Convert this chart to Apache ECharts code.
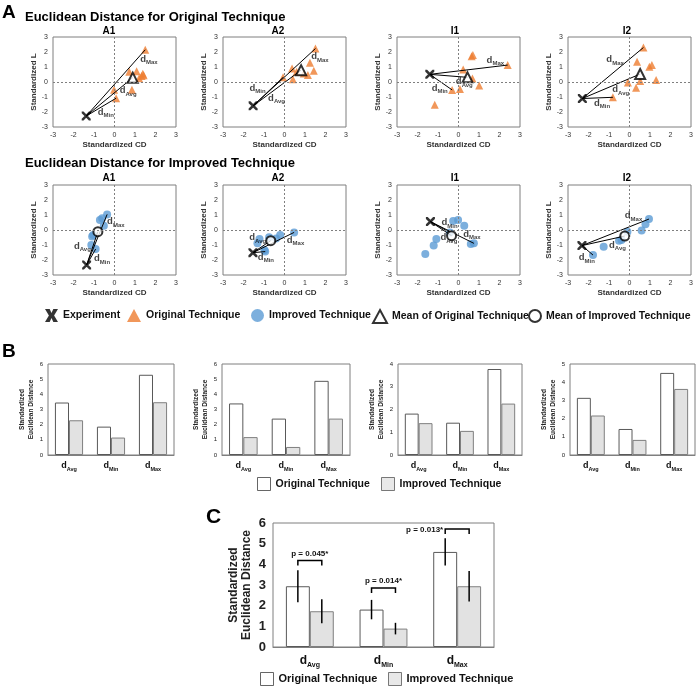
<!DOCTYPE html>
<html><head><meta charset="utf-8">
<script src="https://cdn.jsdelivr.net/npm/echarts@6/dist/echarts.min.js"></script>
<style>html,body{margin:0;padding:0;background:#fff}#c{width:698px;height:686px}</style>
</head><body><div id="c"></div>
<script>
// ---------------- DATA ----------------
const panelNames = ['A1', 'A2', 'I1', 'I2'];

// Original technique (top row of panel A)
const expOrig = [[-1.38, -2.27], [-1.53, -1.59], [-1.40, 0.51], [-2.30, -1.10]];
const origA1 = [[1.50, 2.15], [0.72, 0.68], [1.08, 0.72], [1.38, 0.55], [1.32, 0.40], [1.42, 0.45], [1.20, 0.25], [-0.02, -0.52], [0.85, -0.52], [0.08, -1.08]];
const origA2 = [[1.51, 2.23], [1.24, 1.28], [1.43, 0.75], [0.37, 0.90], [0.59, 0.68], [0.94, 0.57], [1.14, 0.46], [0.41, 0.18], [-0.07, 0.31]];
const origI1 = [[0.64, 1.72], [0.70, 1.80], [2.40, 1.13], [0.23, 0.84], [0.68, 0.24], [1.01, -0.24], [0.07, -0.46], [-0.31, -0.53], [-1.16, -1.52]];
const origI2 = [[0.68, 2.30], [0.37, 1.35], [0.97, 1.02], [1.09, 1.13], [1.30, 0.13], [0.52, 0.07], [-0.08, -0.04], [0.32, -0.38], [-0.81, -1.02]];
const meanOrig = [[0.89, 0.29], [0.81, 0.79], [0.44, 0.31], [0.52, 0.53]];
const maxOrig = [[1.50, 2.15], [1.51, 2.23], [2.40, 1.13], [0.68, 2.30]];
const minOrig = [[0.08, -1.08], [-0.07, 0.31], [-0.31, -0.53], [-0.81, -1.02]];

// Improved technique (bottom row of panel A)
const expImp = [[-1.36, -2.33], [-1.54, -1.51], [-1.37, 0.56], [-2.32, -1.04]];
const impA1 = [[-0.36, 1.04], [-0.71, 0.67], [-0.60, 0.78], [-0.52, 0.29], [-1.04, -0.33], [-1.09, -0.44], [-1.13, -1.00], [-0.92, -1.27]];
const impA2 = [[0.47, -0.16], [-0.21, -0.33], [-0.41, -0.56], [-0.75, -0.49], [-1.22, -0.60], [-1.32, -0.89], [-0.98, -1.33], [-0.94, -1.44]];
const impI1 = [[-0.26, 0.60], [-0.02, 0.67], [0.28, 0.29], [-0.42, -0.16], [-1.08, -0.60], [-1.21, -1.04], [-1.62, -1.60], [0.60, -0.93], [0.75, -0.89]];
const impI2 = [[0.95, 0.73], [0.78, 0.38], [0.59, -0.04], [-0.10, -0.11], [-0.39, -0.67], [-0.51, -0.71], [-1.26, -1.11], [-1.78, -1.67]];
const meanImp = [[-0.81, -0.11], [-0.67, -0.71], [-0.34, -0.38], [-0.23, -0.40]];
const maxImp = [[-0.36, 1.04], [0.47, -0.16], [0.75, -0.89], [0.95, 0.73]];
const minImp = [[-0.92, -1.27], [-0.94, -1.44], [-0.42, -0.16], [-1.78, -1.67]];

// Distance categories and bar values (panel B)
const distCats = ['Avg', 'Min', 'Max'];
const bOrigA1 = [3.46, 1.87, 5.29], bImpA1 = [2.29, 1.15, 3.48];
const bOrigA2 = [3.40, 2.40, 4.89], bImpA2 = [1.18, 0.53, 2.40];
const bOrigI1 = [1.82, 1.42, 3.78], bImpI1 = [1.40, 1.06, 2.26];
const bOrigI2 = [3.14, 1.43, 4.51], bImpI2 = [2.17, 0.83, 3.63];
const bYMax = [6, 6, 4, 5];

// Panel C: means, SDs, significance
const cOrig = [2.94, 1.81, 4.60], cImp = [1.73, 0.89, 2.94];
const cOrigSD = [0.77, 0.47, 0.66], cImpSD = [0.58, 0.28, 0.74];
const pLabels = ['p = 0.045*', 'p = 0.014*', 'p = 0.013*'];
const pHeights = [4.18, 2.85, 5.71];

// ---------------- LAYOUT / STYLE ----------------
const FF = '"Liberation Sans", Arial, sans-serif';
const sLeft = [53, 223, 397, 568], sTop = [37, 185], sW = 123, sH = 90;
const titleX = [109, 278, 455, 627];
// label anchors (where each d-label sits, in axis units)
const lblOrig = [
  [[1.25, 1.52], [0.25, -0.57], [-0.82, -2.0]],
  [[1.30, 1.68], [-0.80, -1.08], [-1.71, -0.42]],
  [[1.37, 1.46], [-0.13, 0.02], [-1.31, -0.42]],
  [[-1.13, 1.50], [-0.84, -0.49], [-1.73, -1.41]]
];
const lblImp = [
  [[-0.36, 0.56], [-1.98, -1.07], [-1.0, -1.89]],
  [[0.11, -0.67], [-1.72, -0.49], [-1.3, -1.82]],
  [[0.23, -0.27], [-0.88, -0.51], [-0.83, 0.49]],
  [[-0.23, 0.96], [-1.0, -1.0], [-2.48, -1.84]]
];
const bLeft = [48, 222, 398, 570], bW = [126, 128, 124, 125];
const X_PATH = 'path://M0,0L2,0L10,8L10,10L8,10L0,2Z M8,0L10,0L10,2L2,10L0,10L0,8Z';
const X_LEGEND = 'path://M0,0L3.6,0L5,3L6.4,0L10,0L7,5L10,10L6.4,10L5,7L3.6,10L0,10L3,5Z';
const ORANGE = '#ED7D31', BLUE = '#5B9BD5';

const grid = [], xAxis = [], yAxis = [], series = [];

function subRich(dSize, sSize, lh) {
  return {
    d: { fontSize: dSize, fontWeight: 'bold', color: '#111', lineHeight: lh, verticalAlign: 'middle', fontFamily: FF },
    s: { fontSize: sSize, fontWeight: 'bold', color: '#111', lineHeight: lh, verticalAlign: 'bottom', fontFamily: FF }
  };
}

function addScatter(gi, left, top, pts, mean, exp, tMax, tMin, isOrig, anchors) {
  grid.push({ left, top, width: sW, height: sH, show: true, borderColor: '#7f7f7f', borderWidth: 1 });
  const common = {
    gridIndex: gi, type: 'value', min: -3, max: 3, interval: 1,
    axisLine: { show: false }, axisTick: { show: false }, splitLine: { show: false },
    axisLabel: { fontSize: 7, color: '#333', margin: 5, fontFamily: FF },
    nameLocation: 'middle',
    nameTextStyle: { fontSize: 8, fontWeight: 'bold', color: '#333', fontFamily: FF }
  };
  xAxis.push(Object.assign({}, common, { name: 'Standardized CD', nameGap: 14 }));
  yAxis.push(Object.assign({}, common, { name: 'Standardized L', nameGap: 13 }));
  const ax = { xAxisIndex: gi, yAxisIndex: gi };
  series.push(Object.assign({
    type: 'scatter', name: isOrig ? 'Original Technique' : 'Improved Technique', data: pts,
    symbol: isOrig ? 'triangle' : 'circle', symbolSize: 8, z: 2,
    itemStyle: { color: isOrig ? ORANGE : BLUE },
    markLine: {
      silent: true, symbol: ['none', 'none'], animation: false, label: { show: false },
      lineStyle: { type: [2, 2], color: '#7f7f7f', width: 1 },
      data: [{ xAxis: 0 }, { yAxis: 0 }]
    }
  }, ax));
  [tMax, mean, tMin].forEach(t => series.push(Object.assign({
    type: 'line', data: [exp, t], symbol: 'none', silent: true, z: 3,
    lineStyle: { color: '#000', width: 1 }
  }, ax)));
  series.push(Object.assign({
    type: 'scatter', name: isOrig ? 'Mean of Original Technique' : 'Mean of Improved Technique',
    data: [mean], symbol: isOrig ? 'triangle' : 'circle', symbolSize: isOrig ? 10 : 9, z: 4,
    itemStyle: { color: '#fff', borderColor: '#000', borderWidth: 2 }
  }, ax));
  series.push(Object.assign({
    type: 'scatter', name: 'Experiment', data: [exp], symbol: X_PATH, symbolSize: 9, z: 5,
    itemStyle: { color: '#000' }
  }, ax));
  series.push(Object.assign({
    type: 'scatter', data: ['Max', 'Avg', 'Min'].map((n, k) => ({ name: n, value: anchors[k] })),
    symbolSize: 0, z: 6, silent: true,
    label: {
      show: true, position: 'right', distance: 0,
      formatter: p => '{d|d}{s|' + p.name + '}', rich: subRich(9.5, 6, 13)
    }
  }, ax));
}

for (let c = 0; c < 4; c++) {
  addScatter(c, sLeft[c], sTop[0], [origA1, origA2, origI1, origI2][c], meanOrig[c], expOrig[c], maxOrig[c], minOrig[c], true, lblOrig[c]);
}
for (let c = 0; c < 4; c++) {
  addScatter(4 + c, sLeft[c], sTop[1], [impA1, impA2, impI1, impI2][c], meanImp[c], expImp[c], maxImp[c], minImp[c], false, lblImp[c]);
}

function addBars(gi, g, ymax, orig, imp, cfg) {
  grid.push(Object.assign({ show: true, borderColor: '#7f7f7f', borderWidth: 1 }, g));
  xAxis.push({
    gridIndex: gi, type: 'category', data: distCats,
    axisLine: { show: true, lineStyle: { color: '#7f7f7f' } }, axisTick: { show: false },
    axisLabel: { interval: 0, margin: cfg.catMargin, formatter: v => '{d|d}{s|' + v + '}', rich: subRich(cfg.d, cfg.s, cfg.lh) }
  });
  yAxis.push({
    gridIndex: gi, type: 'value', min: 0, max: ymax, interval: 1,
    axisLine: { show: false }, axisTick: { show: false }, splitLine: { show: false },
    axisLabel: { fontSize: cfg.tick, fontWeight: cfg.tickW, color: '#222', margin: cfg.tickMargin, fontFamily: FF },
    name: 'Standardized\nEuclidean Distance', nameLocation: 'middle', nameGap: cfg.nameGap,
    nameTextStyle: { fontSize: cfg.name, lineHeight: cfg.nameLH, fontWeight: 'bold', color: '#222', fontFamily: FF }
  });
  const ax = { xAxisIndex: gi, yAxisIndex: gi };
  series.push(Object.assign({
    type: 'bar', name: 'Original Technique', data: orig, barGap: '0%', barCategoryGap: cfg.gap,
    itemStyle: { color: '#fff', borderColor: '#595959', borderWidth: 1 }
  }, ax));
  series.push(Object.assign({
    type: 'bar', name: 'Improved Technique', data: imp, barGap: '0%', barCategoryGap: cfg.gap,
    itemStyle: { color: '#e2e2e2', borderColor: '#7f7f7f', borderWidth: 1 }
  }, ax));
}

const bCfg = { catMargin: 5, d: 9, s: 5.5, lh: 12, tick: 6, tickW: 'normal', tickMargin: 5, nameGap: 11, name: 6.5, nameLH: 9, gap: '33%' };
const bOrigAll = [bOrigA1, bOrigA2, bOrigI1, bOrigI2], bImpAll = [bImpA1, bImpA2, bImpI1, bImpI2];
for (let c = 0; c < 4; c++) {
  addBars(8 + c, { left: bLeft[c], top: 364, width: bW[c], height: 91 }, bYMax[c], bOrigAll[c], bImpAll[c], bCfg);
}
const cCfg = { catMargin: 6, d: 12, s: 7, lh: 16, tick: 13, tickW: 'bold', tickMargin: 7, nameGap: 20, name: 12, nameLH: 13, gap: '35%' };
addBars(12, { left: 273, top: 523, width: 221, height: 124 }, 6, cOrig, cImp, cCfg);

const HALF = 0.1625; // bar centre offset as fraction of band
function errSeries(vals, sds, side) {
  return {
    type: 'custom', xAxisIndex: 12, yAxisIndex: 12, z: 5, silent: true,
    data: vals.map((v, i) => [i, v, sds[i]]),
    renderItem: (params, api) => {
      const i = api.value(0), v = api.value(1), sd = api.value(2);
      const band = api.size([1, 0])[0];
      const off = side * band * HALF;
      const p1 = api.coord([i, v - sd]), p2 = api.coord([i, v + sd]);
      return { type: 'line', shape: { x1: p1[0] + off, y1: p1[1], x2: p2[0] + off, y2: p2[1] }, style: { stroke: '#000', lineWidth: 1.5 } };
    }
  };
}
series.push(errSeries(cOrig, cOrigSD, -1));
series.push(errSeries(cImp, cImpSD, 1));
const pSide = ['top', 'top', 'left'];
series.push({
  type: 'custom', xAxisIndex: 12, yAxisIndex: 12, z: 6, silent: true,
  data: pHeights.map((h, i) => [i, h]),
  renderItem: (params, api) => {
    const i = api.value(0), h = api.value(1);
    const band = api.size([1, 0])[0];
    const p = api.coord([i, h]);
    const xl = p[0] - band * HALF, xr = p[0] + band * HALF, y = p[1];
    const side = pSide[params.dataIndex];
    const txt = side === 'top'
      ? { type: 'text', style: { text: pLabels[params.dataIndex], x: (xl + xr) / 2, y: y - 3, textAlign: 'center', textVerticalAlign: 'bottom', font: 'bold 8px ' + FF, fill: '#111' } }
      : { type: 'text', style: { text: pLabels[params.dataIndex], x: xl - 2, y: y + 1, textAlign: 'right', textVerticalAlign: 'middle', font: 'bold 8px ' + FF, fill: '#111' } };
    return {
      type: 'group', children: [
        { type: 'polyline', shape: { points: [[xl, y + 5], [xl, y], [xr, y], [xr, y + 5]] }, style: { stroke: '#000', lineWidth: 1.5, fill: null } },
        txt
      ]
    };
  }
});

// ---------------- LEGENDS ----------------
const legText = { fontSize: 10.5, fontWeight: 'bold', color: '#111', fontFamily: FF };
function leg(left, top, item, w, h, ts) {
  return { left, top, padding: 0, itemWidth: w, itemHeight: h, textStyle: ts || legText, selectedMode: false, data: [item] };
}
const barLegOrig = { name: 'Original Technique', icon: 'rect', itemStyle: { color: '#fff', borderColor: '#404040', borderWidth: 1 } };
const barLegImp = { name: 'Improved Technique', icon: 'rect', itemStyle: { color: '#e2e2e2', borderColor: '#595959', borderWidth: 1 } };
const legendC = Object.assign({}, legText, { fontSize: 11 });
const legend = [
  leg(45, 309, { name: 'Experiment', icon: X_LEGEND }, 13, 13),
  leg(127, 309, { name: 'Original Technique', icon: 'triangle', itemStyle: { color: ORANGE } }, 14, 13),
  leg(251, 309, { name: 'Improved Technique', icon: 'circle', itemStyle: { color: BLUE } }, 13, 13),
  leg(372, 309, { name: 'Mean of Original Technique', icon: 'triangle', itemStyle: { color: '#fff', borderColor: '#000', borderWidth: 2 } }, 14, 13),
  leg(528, 309, { name: 'Mean of Improved Technique', icon: 'circle', itemStyle: { color: '#fff', borderColor: '#000', borderWidth: 2 } }, 12, 13),
  leg(257, 477, barLegOrig, 13, 13),
  leg(381, 477, barLegImp, 13, 13),
  leg(260, 672, barLegOrig, 13, 13, legendC),
  leg(388, 672, barLegImp, 13, 13, legendC)
];

// ---------------- TEXT ----------------
function txt(x, y, text, font, align) {
  return { type: 'text', x, y, silent: true, style: { text, font, fill: '#000', textAlign: align || 'left', textVerticalAlign: 'middle' } };
}
const graphic = [
  txt(2, 13, 'A', 'bold 19px ' + FF),
  txt(25, 17, 'Euclidean Distance for Original Technique', 'bold 13px ' + FF),
  txt(25, 163, 'Euclidean Distance for Improved Technique', 'bold 13px ' + FF),
  txt(2, 352, 'B', 'bold 19px ' + FF),
  txt(206, 517, 'C', 'bold 21px ' + FF)
];
for (let c = 0; c < 4; c++) {
  graphic.push(txt(titleX[c], 31, panelNames[c], 'bold 10px ' + FF, 'center'));
  graphic.push(txt(titleX[c], 178, panelNames[c], 'bold 10px ' + FF, 'center'));
}

const chart = echarts.init(document.getElementById('c'), null, { renderer: 'canvas', width: 698, height: 686 });
chart.setOption({
  animation: false,
  backgroundColor: '#fff',
  textStyle: { fontFamily: FF },
  grid, xAxis, yAxis, series, legend, graphic
});
</script>
</body></html>
